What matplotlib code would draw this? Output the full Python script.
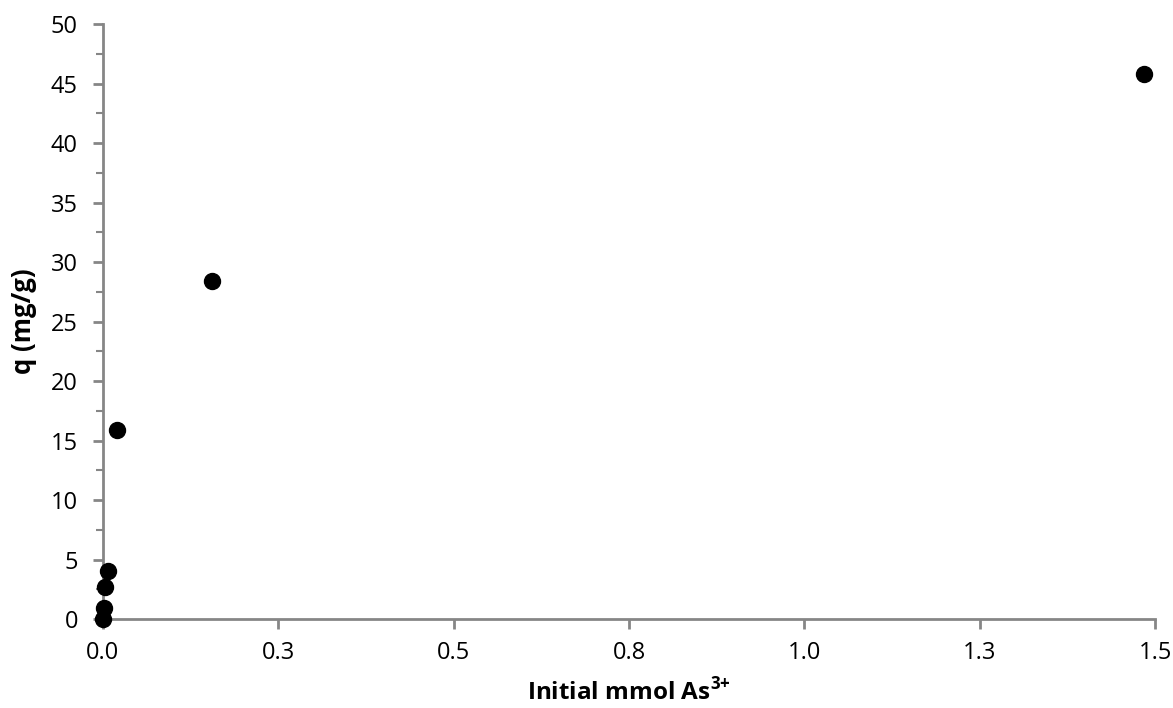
import matplotlib
matplotlib.use("Agg")
import matplotlib.pyplot as plt
from matplotlib.ticker import MultipleLocator, FixedLocator

x_mmol = [0.0005, 0.001, 0.003, 0.007, 0.020, 0.155, 1.484]
q_mg_g = [0.0, 0.95, 2.65, 4.05, 15.9, 28.4, 45.8]
x_ticks = [0.0, 0.25, 0.5, 0.75, 1.0, 1.25, 1.5]
x_tick_labels = ["0.0", "0.3", "0.5", "0.8", "1.0", "1.3", "1.5"]

plt.rcParams['font.family'] = ['Open Sans', 'DejaVu Sans']
plt.rcParams['mathtext.fontset'] = 'custom'
plt.rcParams['mathtext.rm'] = 'Open Sans'
plt.rcParams['mathtext.bf'] = 'Open Sans:bold'

fig = plt.figure(figsize=(11.73, 7.08), dpi=100)
ax = fig.add_axes([0.0878, 0.1257, 0.8969, 0.8404])

ax.plot(x_mmol, q_mg_g, 'o', color='black', markersize=11.5, clip_on=False, zorder=5)

ax.set_xlim(0, 1.5)
ax.set_ylim(0, 50)
ax.xaxis.set_major_locator(FixedLocator(x_ticks))
ax.set_xticklabels(x_tick_labels)
ax.yaxis.set_major_locator(MultipleLocator(5))
ax.yaxis.set_minor_locator(MultipleLocator(2.5))

axis_gray = '#868686'
for s in ['top', 'right']:
    ax.spines[s].set_visible(False)
for s in ['left', 'bottom']:
    ax.spines[s].set_color(axis_gray)
    ax.spines[s].set_linewidth(2)
ax.tick_params(axis='both', which='major', direction='out', length=7, width=2,
               color=axis_gray, labelsize=17, labelcolor='black')
ax.tick_params(axis='y', which='minor', direction='out', length=5, width=1.5, color=axis_gray)
ax.tick_params(axis='x', which='major', pad=9)
ax.tick_params(axis='y', which='major', pad=11)

ax.set_xlabel(r'Initial mmol As$^{\mathbf{3{+}}}$', fontsize=17.5, fontweight='bold', labelpad=9)
ax.set_ylabel('q (mg/g)', fontsize=18.5, fontweight='bold', labelpad=10)

fig.savefig('out.png', dpi=100)
